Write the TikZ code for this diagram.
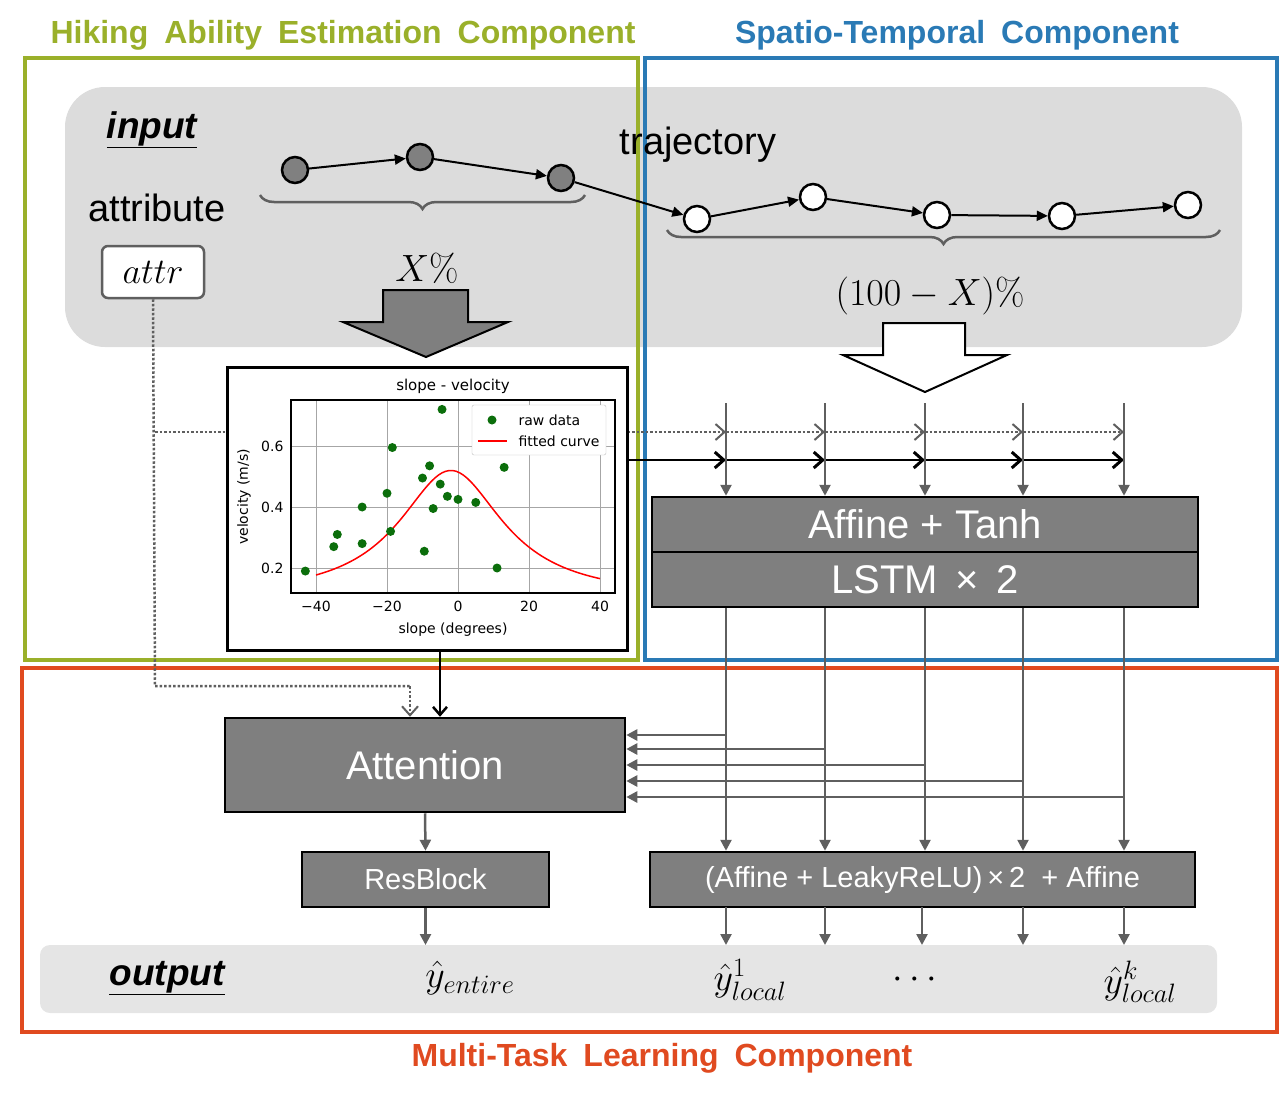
\RequirePackage{fix-cm}
\documentclass[tikz,border=0pt]{standalone}
\usepackage{fontspec}
\setmainfont{Liberation Sans}
\newfontfamily\plotfont{DejaVu Sans}
\newfontfamily\lmfont{Latin Modern Roman}
\usetikzlibrary{arrows.meta,decorations.pathreplacing,calc}
\definecolor{cgreen}{HTML}{9AB02A}
\definecolor{cblue}{HTML}{2A7AB5}
\definecolor{cred}{HTML}{E04A20}
\definecolor{boxgray}{HTML}{7F7F7F}
\definecolor{linegray}{HTML}{5F5F5F}
\definecolor{bggray}{HTML}{DCDCDC}
\definecolor{mgreen}{HTML}{0B6E0B}
\newcommand{\fs}[1]{\fontsize{#1}{#1}\selectfont}
\newcommand{\widesp}{\spaceskip=16pt\relax}
\tikzset{
  blk/.style={draw=black,line width=2.5pt,fill=boxgray,text=white,inner sep=0pt},
  col/.style={draw=linegray,line width=2.5pt,-{Triangle[length=11pt,width=11pt]}},
  dotarr/.style={draw=linegray,line width=2.5pt,dotted,-{Straight Barb[length=9pt,width=16pt,line width=2pt]}},
  solarr/.style={draw=black,line width=2.5pt,-{Straight Barb[length=9pt,width=16pt,line width=3pt]}},
  tnode/.style={circle,draw=black,line width=2.5pt,minimum size=26pt,inner sep=0pt},
  title/.style={font=\fs{32}\bfseries\widesp}
}
\begin{document}
\begin{tikzpicture}[x=1pt,y=-1pt]
\useasboundingbox (0,0) rectangle (1280,1103);
% titles
\node[title,text=cgreen] (tg) at (343,35) {Hiking Ability Estimation Component};
\node[title,text=cblue] (tb) at (957,35) {Spatio-Temporal Component};
\node[title,text=cred] (tr) at (662,1058) {Multi-Task Learning Component};
% input area
\fill[bggray,rounded corners=40pt] (65,87) rectangle (1242,347);
% component boxes
\draw[cgreen,line width=3.5pt] (25,58) rectangle (638,660);
\draw[cblue,line width=3.5pt] (645,58) rectangle (1277,660);
\draw[cred,line width=3.5pt] (22,668) rectangle (1277,1032);
\node[font=\fs{37}\bfseries\itshape] (inp) at (152,130) {\underline{input}};
\node[font=\fs{38}] (attrib) at (157,208) {attribute};
\node[draw=linegray,line width=2.5pt,fill=white,rounded corners=6pt,minimum width=102pt,minimum height=52pt,font=\fs{36}] (attr) at (153,272) {$attr$};
\node[font=\fs{38}] (traj) at (698,145) {trajectory};
% trajectory
\foreach \n/\x/\y in {g1/295/170,g2/420/157,g3/561/178}{\node[tnode,fill=gray] (\n) at (\x,\y) {};}
\foreach \n/\x/\y in {w1/697/219,w2/813/197,w3/937/215,w4/1062/216,w5/1188/205}{\node[tnode,fill=white] (\n) at (\x,\y) {};}
\foreach \a/\b in {g1/g2,g2/g3,g3/w1,w1/w2,w2/w3,w3/w4,w4/w5}{\draw[line width=2pt,-{Triangle[length=11pt,width=10pt]}] (\a) -- (\b);}
\draw[linegray,line width=2.5pt,decorate,decoration={brace,mirror,amplitude=14pt}] (260,195) -- (585,195);
\draw[linegray,line width=2.5pt,decorate,decoration={brace,mirror,amplitude=14pt}] (667,230) -- (1220,230);
\node[font=\fs{38}] (xp) at (427,268) {$X${\lmfont\%}};
\node[font=\fs{38}] (yp) at (930,296) {$(100-X)${\lmfont\%}};
% big arrows
\draw[line width=2pt,fill=boxgray] (383,290) -- (468,290) -- (468,322) -- (508,322) -- (426,357) -- (343,322) -- (383,322) -- cycle;
\draw[line width=2pt,fill=white] (883,323) -- (965,323) -- (965,355) -- (1007,355) -- (925,392) -- (843,355) -- (883,355) -- cycle;
% columns
\foreach \i/\x in {1/726,2/825,3/925,4/1023,5/1124}{
  \coordinate (t\i) at (\x,403);
  \coordinate (d\i) at (\x,432);
  \coordinate (s\i) at (\x,460);
}
\coordinate (dstart) at (155,432);
\coordinate (sstart) at (628,460);
\draw[dotarr] (dstart) -- (d1);
\draw[dotarr] (d1) -- (d2);
\draw[dotarr] (d2) -- (d3);
\draw[dotarr] (d3) -- (d4);
\draw[dotarr] (d4) -- (d5);
\draw[solarr] (sstart) -- (s1);
\draw[solarr] (s1) -- (s2);
\draw[solarr] (s2) -- (s3);
\draw[solarr] (s3) -- (s4);
\draw[solarr] (s4) -- (s5);
% affine / lstm
\node[blk,minimum width=546pt,minimum height=55pt,font=\fs{40}] (aff) at (925,524.5) {Affine + Tanh};
\node[blk,minimum width=546pt,minimum height=55pt,font=\fs{40}] (lstm) at (925,579.5) {LSTM \,×\, 2};
\foreach \i in {1,...,5}{\draw[col] (t\i) -- (t\i |- aff.north);}
% attention etc
\node[blk,minimum width=400pt,minimum height=94pt,font=\fs{40}] (att) at (425,765) {Attention};
\node[blk,minimum width=247pt,minimum height=55pt,font=\fs{29}] (res) at (425.5,879.5) {ResBlock};
\node[blk,minimum width=545pt,minimum height=55pt,font=\fs{29}] (leaky) at (922.5,879.5) {(Affine + LeakyReLU)\,×\,2 \ + Affine};
\foreach \i in {1,...,5}{\draw[col] (t\i |- lstm.south) -- (t\i |- leaky.north);}
\foreach \i/\y in {1/735,2/749,3/765,4/781,5/797}{\draw[col] (t\i |- 0,\y) -- (att.east |- 0,\y);}
% plot
\node[draw=black,line width=3pt,fill=white,minimum width=400pt,minimum height=283pt] (plot) at (427,508.5) {};
\draw[line width=2.5pt,-{Straight Barb[length=8pt,width=14pt,line width=2.5pt]}] (440,650) -- (att.north -| 440,0);
\draw[linegray,line width=2.5pt,dotted] (attr.south) -- (155,686) -- (410,686);
\draw[dotarr] (410,686) -- (att.north -| 410,0);
\begin{scope}[font=\plotfont\fs{14}]
\foreach \t/\l in {-40/−40,-20/−20,0/0,20/20,40/40}{\draw[gray!70,line width=1pt] ({458+3.55*\t},400) -- ({458+3.55*\t},593);
  \node[anchor=north] at ({458+3.55*\t},598) {\l};}
\foreach \v in {0.2,0.4,0.6}{\draw[gray!70,line width=1pt] (291,{629-305*\v}) -- (615,{629-305*\v});
  \node[anchor=east] at (287,{629-305*\v}) {\v};}
\draw[red,line width=1.5pt] plot[domain=-40:40,samples=80] ({458+3.55*\x},{629-305*(0.1+0.42/(1+((\x+2)/18)^2))});
\foreach \a/\b in {-43/0.19,-35/0.27,-34/0.31,-27/0.40,-27/0.28,-20/0.445,-19/0.32,-18.5/0.595,-10/0.495,-9.5/0.255,-8/0.535,-7/0.395,-5/0.475,-4.5/0.72,-3/0.435,0/0.425,5/0.415,11/0.2,13/0.53}
  {\fill[mgreen] ({458+3.55*\a},{629-305*\b}) circle (4.5pt);}
\draw[line width=1.5pt] (291,400) rectangle (615,593);
\draw[gray!50,fill=white,rounded corners=2pt] (472,405) rectangle (606,455);
\fill[mgreen] (492,420) circle (4.5pt);
\draw[red,line width=1.5pt] (478,441) -- (507,441);
\node[anchor=west] at (515,420) {raw data};
\node[anchor=west] at (515,441) {fitted curve};
\node[font=\plotfont\fs{15}] at (453,386) {slope - velocity};
\node at (453,630) {slope (degrees)};
\node[rotate=90] at (244,497) {velocity (m/s)};
\end{scope}
% output
\fill[black!10,rounded corners=10pt] (40,945) rectangle (1217,1013);
\node[font=\fs{37}\bfseries\itshape] (outp) at (167,978) {\underline{output}};
\node[font=\fs{38}] (ye) at (470,978) {$\hat{y}_{entire}$};
\node[font=\fs{38}] (y1) at (750,980) {$\hat{y}^{1}_{local}$};
\node[font=\fs{38}] (dots) at (915,980) {$\cdots$};
\node[font=\fs{38}] (yk) at (1140,982) {$\hat{y}^{k}_{local}$};
\draw[col] (res.south) -- (res.south |- 0,945);
\foreach \i/\x in {1/726,2/825,3/922,4/1023,5/1124}{\draw[col] (\x,907) -- (\x,945);}
\draw[col] (att.south) -- (res.north);
\end{tikzpicture}
\end{document}
